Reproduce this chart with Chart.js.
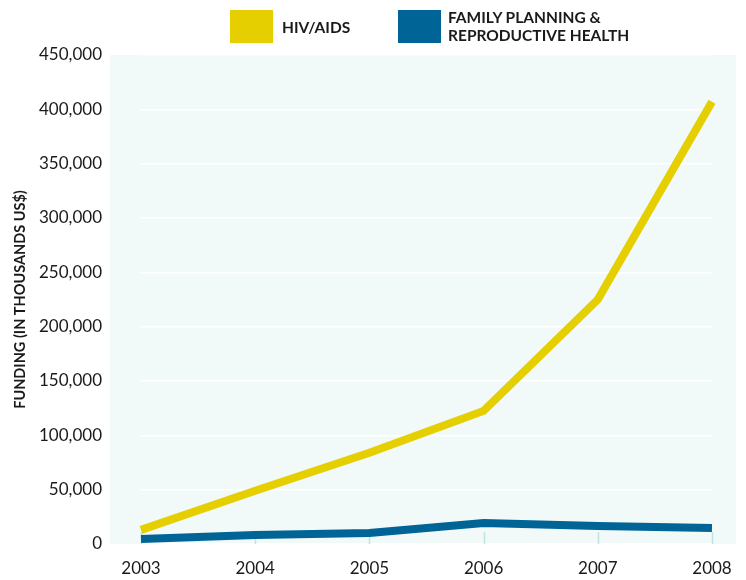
<!DOCTYPE html>
<html>
<head>
<meta charset="utf-8">
<script src="https://cdn.jsdelivr.net/npm/chart.js@4/dist/chart.umd.min.js"></script>
<style>
  body { margin: 0; background: #fff; }
  #wrap { position: relative; width: 746px; height: 580px; }
  canvas { display: block; }
  .legend { position: absolute; top: 0; left: 0; width: 746px; font-family: Lato, sans-serif; font-weight: bold; font-size: 15.5px; color: #1a1a1a; }
  .box { position: absolute; width: 43px; height: 33px; top: 10px; }
  .lbl { position: absolute; line-height: 18px; white-space: nowrap; }
</style>
</head>
<body>
<div id="wrap">
  <canvas id="chart" width="746" height="580"></canvas>
  <div class="legend">
    <div class="box" style="left:230px;background:#e6cf00"></div>
    <div class="lbl" style="left:282px;top:18px">HIV/AIDS</div>
    <div class="box" style="left:398px;background:#006496"></div>
    <div class="lbl" style="left:448px;top:8px">FAMILY PLANNING &amp;<br>REPRODUCTIVE HEALTH</div>
  </div>
</div>
<script>
// Data
const years = ["2003", "2004", "2005", "2006", "2007", "2008"];
const hivAids = [13000, 49000, 84000, 122500, 225000, 407000];
const familyPlanning = [4600, 8300, 10100, 19300, 16600, 14700];

// Mint plot background, extended past the chart area like the original
const backdrop = {
  id: "backdrop",
  beforeDraw(chart) {
    const { ctx, chartArea } = chart;
    ctx.save();
    ctx.fillStyle = "#f1faf8";
    ctx.fillRect(chartArea.left - 31, chartArea.top, chartArea.right - chartArea.left + 55, chartArea.bottom - chartArea.top);
    ctx.restore();
  },
  beforeDatasetsDraw(chart) {
    // short tick marks rising from the bottom at each year
    const { ctx, chartArea } = chart;
    const x = chart.scales.x;
    ctx.save();
    ctx.strokeStyle = "#bfe3e3";
    ctx.lineWidth = 1.5;
    years.forEach((y, i) => {
      const px = Math.round(x.getPixelForValue(i)) + 0.5;
      ctx.beginPath();
      ctx.moveTo(px, chartArea.bottom - 12);
      ctx.lineTo(px, chartArea.bottom);
      ctx.stroke();
    });
    ctx.restore();
  }
};

new Chart(document.getElementById("chart"), {
  type: "line",
  data: {
    labels: years,
    datasets: [
      {
        label: "HIV/AIDS",
        data: hivAids,
        borderColor: "#e6cf00",
        backgroundColor: "#e6cf00",
        borderWidth: 8,
        pointRadius: 0,
        tension: 0,
      },
      {
        label: "FAMILY PLANNING & REPRODUCTIVE HEALTH",
        data: familyPlanning,
        borderColor: "#006496",
        backgroundColor: "#006496",
        borderWidth: 8,
        pointRadius: 0,
        tension: 0,
      },
    ],
  },
  options: {
    responsive: false,
    animation: false,
    layout: { padding: { left: 12, right: 34, top: 55, bottom: 0 } },
    plugins: { legend: { display: false }, tooltip: { enabled: false } },
    scales: {
      x: {
        offset: false,
        afterFit: scale => { scale.height = 36; },
        grid: { display: false },
        border: { display: false },
        ticks: { padding: 6, color: "#1a1a1a", font: { family: "Lato", size: 17 } },
      },
      y: {
        min: 0,
        max: 450000,
        afterFit: scale => { scale.width = 129; },
        grid: { color: "#ffffff", lineWidth: 1.5, drawTicks: true, tickLength: 35, tickColor: "rgba(0,0,0,0)" },
        border: { display: false },
        ticks: {
          stepSize: 50000,
          padding: 4,
          color: "#1a1a1a",
          font: { family: "Lato", size: 17 },
          callback: v => v.toLocaleString("en-US"),
        },
        title: {
          display: true,
          text: "FUNDING (IN THOUSANDS US$)",
          color: "#1a1a1a",
          font: { family: "Lato", size: 14.5, weight: "bold" },
          padding: 0,
        },
      },
    },
  },
  plugins: [backdrop],
});
</script>
</body>
</html>
